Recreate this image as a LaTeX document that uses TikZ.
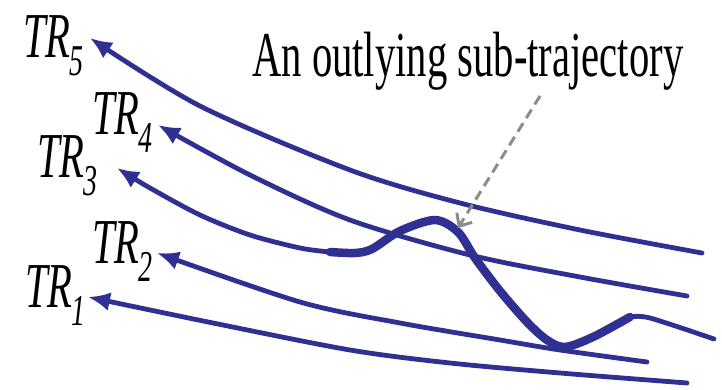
\documentclass[tikz,border=0pt]{standalone}
\usepackage{fontspec}
\usetikzlibrary{arrows.meta}
\newfontfamily\figfont[FakeStretch=0.635]{Liberation Serif}
\definecolor{trajblue}{RGB}{46,49,146}
\definecolor{pointgray}{RGB}{140,140,140}
\newcommand{\trname}[1]{\itshape TR\kern-1pt\raisebox{-18pt}{\fontsize{44}{44}\selectfont #1}}

\begin{document}
\begin{tikzpicture}[x=1pt,y=-1pt,
    traj/.style={trajblue, line width=4.8pt, line cap=round},
    trajtip/.style={traj, -{Latex[length=22pt,width=19pt]}},
    outlier/.style={trajblue, line width=8.5pt, line cap=round},
    pointer/.style={pointgray, line width=3pt, dash pattern=on 10pt off 6pt,
        -{Straight Barb[length=10pt,width=18pt,line width=3pt]}},
    lbl/.style={anchor=base west, inner sep=0pt, font=\figfont\fontsize{64}{64}\selectfont}]
\useasboundingbox (0,0) rectangle (722,390);

% trajectory names
\node[lbl] (tr5) at (23,58) {\trname{5}};
\node[lbl] (tr4) at (92,135) {\trname{4}};
\node[lbl] (tr3) at (37,178) {\trname{3}};
\node[lbl] (tr2) at (92,263) {\trname{2}};
\node[lbl] (tr1) at (25,307) {\trname{1}};
\node[lbl] (cap) at (252,77) {An outlying sub-trajectory};

% ends and tips
\coordinate (s5) at (702,253); \coordinate (t5) at (90,38);
\coordinate (s4) at (687,296); \coordinate (t4) at (158,125);
\coordinate (s3) at (714,339); \coordinate (t3) at (117,168);
\coordinate (s2) at (647,362); \coordinate (t2) at (157,253);
\coordinate (s1) at (687,383); \coordinate (t1) at (88,297);
\coordinate (o1) at (330,252); \coordinate (o2) at (630,317);

% trajectories
\draw[trajtip] plot[smooth, tension=0.5] coordinates
    {(s5) (580,230) (460,203) (350,170) (200,106) (t5)};
\draw[trajtip] plot[smooth, tension=0.5] coordinates
    {(s4) (580,277) (470,255) (350,220) (250,175) (t4)};
\draw[trajtip] plot[smooth, tension=0.5] coordinates
    {(o1) (300,248) (250,235) (200,215) (150,188) (t3)};
\draw[trajtip] plot[smooth, tension=0.5] coordinates
    {(s2) (560,350) (500,340) (400,323) (300,302) (t2)};
\draw[trajtip] plot[smooth, tension=0.5] coordinates
    {(s1) (560,373) (450,363) (350,350) (213,323) (t1)};

% outlying part of TR3
\draw[outlier] plot[smooth, tension=0.5] coordinates {(o1) (355,253) (372,249) (400,231)
    (435,220) (458,232) (475,258) (500,291) (527,322) (547,340) (565,347) (593,337) (o2)};
\draw[traj] plot[smooth] coordinates {(o2) (650,318) (s3)};

% pointer from the caption
\coordinate (p0) at (540,96);
\coordinate (p1) at (458,228);
\draw[pointer] (p0) -- (p1);
\end{tikzpicture}
\end{document}
